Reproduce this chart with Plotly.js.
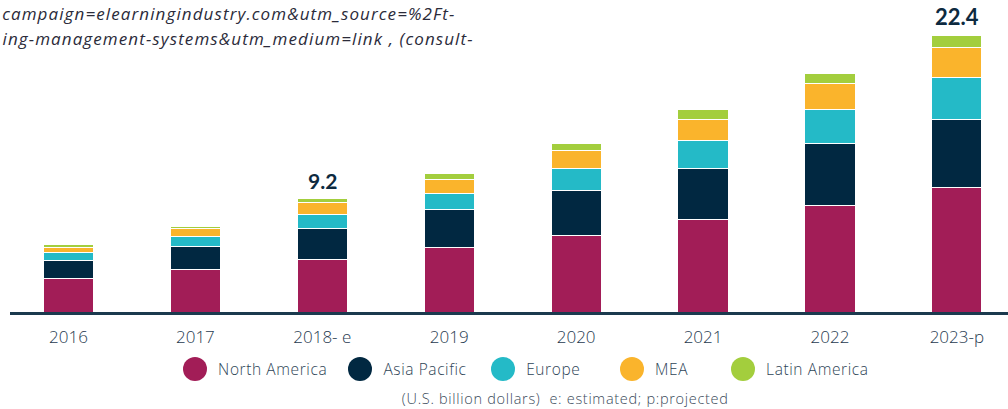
<!DOCTYPE html>
<html>
<head>
<meta charset="utf-8">
<script src="https://cdn.plot.ly/plotly-3.0.1.min.js"></script>
<style>
html,body{margin:0;padding:0;background:#fff;}
#chart{width:1008px;height:409px;}
g.annotation[data-index="2"] text, g.annotation[data-index="3"] text, g.annotation[data-index="4"] text,
g.annotation[data-index="5"] text, g.annotation[data-index="6"] text { letter-spacing: 0.6px; }
g.annotation[data-index="7"] text { letter-spacing: 0.7px; }
g.annotation[data-index="8"] text, g.annotation[data-index="9"] text { letter-spacing: 1.1px; }
</style>
</head>
<body>
<div id="chart"></div>
<script>
// ---- data (US$ billion) ----
const years = ['2016', '2017', '2018- e', '2019', '2020', '2021', '2022', '2023-p'];
const northAmerica = [2.68, 3.43, 4.25, 5.25, 6.17, 7.52, 8.60, 10.10];
const asiaPacific  = [1.52, 1.92, 2.50, 3.03, 3.71, 4.14, 5.03, 5.50];
const europe       = [0.62, 0.81, 1.14, 1.32, 1.79, 2.22, 2.82, 3.43];
const mea          = [0.44, 0.62, 0.98, 1.17, 1.46, 1.76, 2.11, 2.43];
const latinAmerica = [0.19, 0.19, 0.33, 0.49, 0.57, 0.78, 0.78, 0.94];
const totalLabels  = ['', '', '9.2', '', '', '', '', '22.4'];
const seriesNames  = ['North America', 'Asia Pacific', 'Europe', 'MEA', 'Latin America'];
const seriesColors = ['#A21D57', '#012841', '#24BAC7', '#FAB42C', '#A3CE3D'];
const noteLines = [
  'campaign=elearningindustry.com&utm_source=%2Ft-',
  'ing-management-systems&utm_medium=link , (consult-'
];
const caption = '(U.S. billion dollars)  e: estimated; p:projected';

const seriesValues = [northAmerica, asiaPacific, europe, mea, latinAmerica];
const FONT = '"Open Sans", Lato, sans-serif';
const LFONT = 'Lato, "Open Sans", sans-serif';

const traces = seriesValues.map((vals, i) => ({
  type: 'bar',
  x: years,
  y: vals,
  name: seriesNames[i],
  marker: { color: seriesColors[i], line: { color: '#ffffff', width: 1 } },
  width: 0.395,
  hoverinfo: 'x+y+name',
  showlegend: false
}));

const totals = years.map((_, j) => seriesValues.reduce((s, v) => s + v[j], 0));

const annotations = [];
years.forEach((yr, j) => {
  if (totalLabels[j]) {
    annotations.push({
      x: yr, y: totals[j], xref: 'x', yref: 'y',
      text: '<b>' + totalLabels[j] + '</b>',
      showarrow: false, yanchor: 'bottom', yshift: 4,
      font: { family: LFONT, size: j === 7 ? 22 : 21, color: '#0d2a40' }
    });
  }
});

// legend (manual, circular markers)
const legendX = [195, 360, 503, 632, 743];
const shapes = [];
const plotL = 10, plotW = 998, plotH = 312;
const legendY = 369;
seriesNames.forEach((nm, i) => {
  const px = (legendX[i] - plotL) / plotW;
  const py = (plotH - legendY) / plotH;
  shapes.push({
    type: 'circle', xref: 'paper', yref: 'paper',
    xsizemode: 'pixel', ysizemode: 'pixel',
    xanchor: px, yanchor: py,
    x0: -12, x1: 12, y0: -12, y1: 12,
    fillcolor: seriesColors[i], line: { width: 0 }
  });
  annotations.push({
    xref: 'paper', yref: 'paper',
    x: (legendX[i] + 21 - plotL) / plotW, y: py,
    xanchor: 'left', yanchor: 'middle', xshift: nm.length * 0.3,
    text: nm, showarrow: false,
    font: { family: FONT, size: 15.5, weight: 300, color: '#2e4456' }
  });
});

annotations.push({
  xref: 'paper', yref: 'paper',
  x: (400 - plotL) / plotW, y: (plotH - 399) / plotH,
  xanchor: 'left', yanchor: 'middle', xshift: caption.length * 0.35,
  text: caption, showarrow: false,
  font: { family: FONT, size: 14.5, weight: 300, color: '#3a4a5a' }
});

noteLines.forEach((t, k) => {
  annotations.push({
    xref: 'paper', yref: 'paper',
    x: (0 - plotL) / plotW, y: (plotH - (14 + 24 * k)) / plotH,
    xanchor: 'left', yanchor: 'middle', xshift: t.length * 0.55,
    text: '<i>' + t + '</i>', showarrow: false,
    font: { family: FONT, size: 17, color: '#2b2b3a' }
  });
});

const layout = {
  width: 1008, height: 409,
  margin: { l: 10, r: 0, t: 0, b: 97, pad: 0 },
  paper_bgcolor: '#ffffff', plot_bgcolor: '#ffffff',
  barmode: 'stack',
  showlegend: false,
  xaxis: {
    type: 'category',
    range: [-0.461, 7.403],
    showline: true, linecolor: '#1b3a4e', linewidth: 2.5,
    ticks: 'outside', ticklen: 8, tickcolor: 'rgba(0,0,0,0)',
    showgrid: false, zeroline: false,
    tickfont: { family: FONT, size: 17, weight: 300, color: '#1f3a4f' },
    fixedrange: true
  },
  yaxis: {
    range: [0, 25.3],
    visible: false, showgrid: false, zeroline: false,
    fixedrange: true
  },
  annotations: annotations,
  shapes: shapes
};

Plotly.newPlot('chart', traces, layout, { displayModeBar: false, staticPlot: true });
</script>
</body>
</html>
